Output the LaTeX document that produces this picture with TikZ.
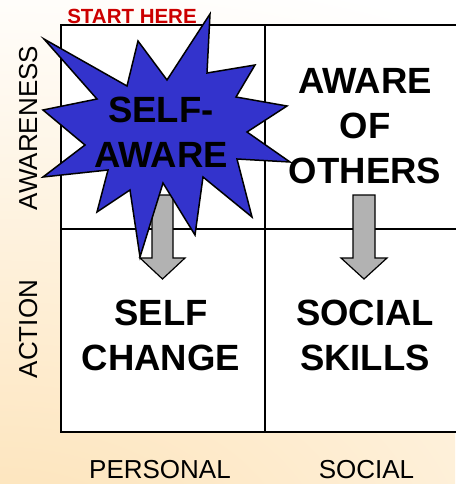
\documentclass[tikz,border=0pt]{standalone}
\usepackage{fontspec}
\setmainfont{Liberation Sans}
\definecolor{starblue}{RGB}{51,51,204}
\definecolor{arrowgray}{RGB}{178,178,178}
\definecolor{startred}{RGB}{204,0,0}
\definecolor{bgorange}{RGB}{253,226,182}
\tikzset{
  gridline/.style={line width=2pt, black},
  blockarrow/.style={fill=arrowgray, draw=black, line width=1.2pt, line join=miter},
  burst/.style={fill=starblue, draw=black, line width=1.5pt, line join=miter},
  biglabel/.style={font=\bfseries\fontsize{36.5}{45}\selectfont, align=center, inner sep=0pt, anchor=north},
  axislabel/.style={font=\fontsize{26}{30}\selectfont, inner sep=0pt, anchor=base},
}
\begin{document}
\begin{tikzpicture}[x=1pt,y=-1pt]
\useasboundingbox (0,0) rectangle (455,484);
\begin{scope}
  \clip (0,0) rectangle (455,484);
  \shade[inner color=bgorange, outer color=white] (0,560) ellipse (1000pt and 600pt);
\end{scope}
% grid
\fill[white] (61,25) rectangle (470,432);
\draw[gridline] (61,25) rectangle (470,432);
\draw[gridline] (265,25) -- (265,432);
\draw[gridline] (61,229) -- (470,229);
% block arrows
\draw[blockarrow] (152,195) -- (173,195) -- (173,258) -- (185,258) -- (162.5,279) -- (140,258) -- (152,258) -- cycle;
\draw[blockarrow] (353,195) -- (375,195) -- (375,258) -- (387,258) -- (364,279) -- (341,258) -- (353,258) -- cycle;
% starburst
\draw[burst] (44,39) -- (127,86) -- (138,41) -- (167,80) -- (210,14) -- (207,73) -- (255,65) -- (236,97) -- (287,106) -- (247,132) -- (290,162) -- (237,159) -- (252,217) -- (203,177) -- (195,235) -- (163,183) -- (140,257) -- (130,190) -- (97,212) -- (108,170) -- (43,177) -- (85,145) -- (43,110) -- (97,99) -- cycle;
% texts
\node[font=\bfseries\fontsize{20.5}{24}\selectfont, text=startred, inner sep=0pt, anchor=base] (start) at (132,24) {START HERE};
\node[biglabel] (selfaware) at (161,97) {SELF-\\AWARE};
\node[biglabel] (others) at (365,68) {AWARE\\OF\\OTHERS};
\node[biglabel] (change) at (161,300) {SELF\\CHANGE};
\node[biglabel] (skills) at (365,300) {SOCIAL\\SKILLS};
\node[axislabel, rotate=90] (awareness) at (37,128) {AWARENESS};
\node[axislabel, rotate=90] (action) at (37,329) {ACTION};
\node[axislabel] (personal) at (160,478) {PERSONAL};
\node[axislabel] (social) at (366.5,478) {SOCIAL};
\end{tikzpicture}
\end{document}
